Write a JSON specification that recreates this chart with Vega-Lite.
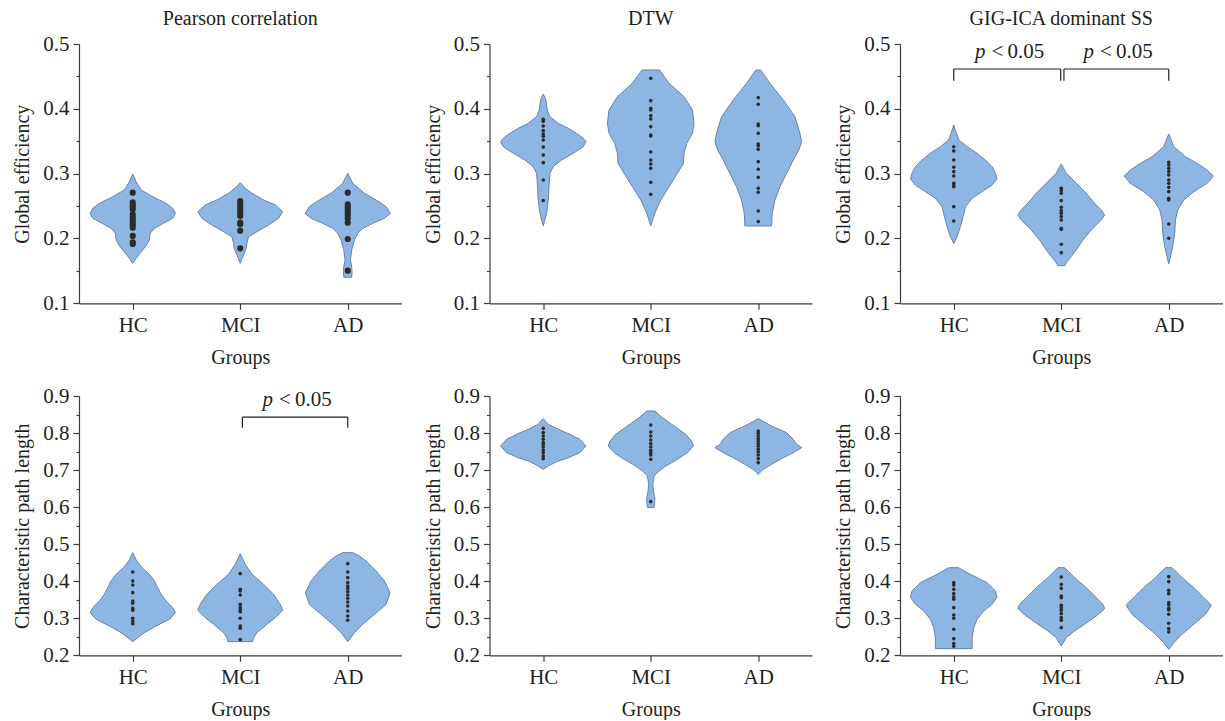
{
"$schema": "https://vega.github.io/schema/vega-lite/v6.json",
"background": "white",
"padding": {"left": 12, "top": 9, "right": 0, "bottom": 0},
"config": {
  "view": {"stroke": null},
  "font": "Liberation Serif",
  "axis": {"labelFont": "Liberation Serif", "titleFont": "Liberation Serif", "labelFontSize": 21, "titleFontSize": 20, "titleFontWeight": "normal", "labelColor": "#231f20", "titleColor": "#231f20", "domainColor": "#3c3c3c", "tickColor": "#3c3c3c", "domainWidth": 1.2, "tickWidth": 1.2, "grid": false, "labelOverlap": false, "labelFlush": false, "labelBound": false, "tickCount": 40},
  "title": {"font": "Liberation Serif", "fontSize": 20, "fontWeight": "normal", "color": "#231f20", "anchor": "middle", "baseline": "alphabetic", "offset": 4}
},
"datasets": {
"violins": [
{"p":"A","g":"HC","v":0.2995,"lo":1,"hi":1},{"p":"A","g":"HC","v":0.2877,"lo":0.969,"hi":1.031},{"p":"A","g":"HC","v":0.2748,"lo":0.922,"hi":1.078},{"p":"A","g":"HC","v":0.2645,"lo":0.814,"hi":1.186},{"p":"A","g":"HC","v":0.2542,"lo":0.69,"hi":1.31},{"p":"A","g":"HC","v":0.2465,"lo":0.628,"hi":1.372},{"p":"A","g":"HC","v":0.2388,"lo":0.603,"hi":1.397},{"p":"A","g":"HC","v":0.2311,"lo":0.628,"hi":1.372},{"p":"A","g":"HC","v":0.2234,"lo":0.715,"hi":1.285},{"p":"A","g":"HC","v":0.2157,"lo":0.798,"hi":1.202},{"p":"A","g":"HC","v":0.208,"lo":0.839,"hi":1.161},{"p":"A","g":"HC","v":0.1977,"lo":0.845,"hi":1.155},{"p":"A","g":"HC","v":0.1874,"lo":0.882,"hi":1.118},{"p":"A","g":"HC","v":0.1771,"lo":0.932,"hi":1.068},{"p":"A","g":"HC","v":0.1694,"lo":0.969,"hi":1.031},{"p":"A","g":"HC","v":0.1617,"lo":1,"hi":1},
{"p":"A","g":"MCI","v":0.2861,"lo":2,"hi":2},{"p":"A","g":"MCI","v":0.2774,"lo":1.953,"hi":2.047},{"p":"A","g":"MCI","v":0.2697,"lo":1.891,"hi":2.109},{"p":"A","g":"MCI","v":0.2594,"lo":1.783,"hi":2.217},{"p":"A","g":"MCI","v":0.2517,"lo":1.674,"hi":2.326},{"p":"A","g":"MCI","v":0.2414,"lo":1.606,"hi":2.394},{"p":"A","g":"MCI","v":0.2311,"lo":1.643,"hi":2.357},{"p":"A","g":"MCI","v":0.2208,"lo":1.736,"hi":2.264},{"p":"A","g":"MCI","v":0.2105,"lo":1.845,"hi":2.155},{"p":"A","g":"MCI","v":0.2028,"lo":1.922,"hi":2.078},{"p":"A","g":"MCI","v":0.1925,"lo":1.938,"hi":2.062},{"p":"A","g":"MCI","v":0.1848,"lo":1.944,"hi":2.056},{"p":"A","g":"MCI","v":0.1746,"lo":1.969,"hi":2.031},{"p":"A","g":"MCI","v":0.1617,"lo":2,"hi":2},
{"p":"A","g":"AD","v":0.3005,"lo":3,"hi":3},{"p":"A","g":"AD","v":0.2851,"lo":2.953,"hi":3.047},{"p":"A","g":"AD","v":0.2697,"lo":2.845,"hi":3.155},{"p":"A","g":"AD","v":0.2594,"lo":2.736,"hi":3.264},{"p":"A","g":"AD","v":0.2491,"lo":2.643,"hi":3.357},{"p":"A","g":"AD","v":0.2388,"lo":2.603,"hi":3.397},{"p":"A","g":"AD","v":0.2311,"lo":2.659,"hi":3.341},{"p":"A","g":"AD","v":0.2234,"lo":2.767,"hi":3.233},{"p":"A","g":"AD","v":0.2157,"lo":2.86,"hi":3.14},{"p":"A","g":"AD","v":0.208,"lo":2.907,"hi":3.093},{"p":"A","g":"AD","v":0.1977,"lo":2.938,"hi":3.062},{"p":"A","g":"AD","v":0.1823,"lo":2.963,"hi":3.037},{"p":"A","g":"AD","v":0.1668,"lo":2.975,"hi":3.025},{"p":"A","g":"AD","v":0.1566,"lo":2.963,"hi":3.037},{"p":"A","g":"AD","v":0.1488,"lo":2.96,"hi":3.04},{"p":"A","g":"AD","v":0.1401,"lo":2.963,"hi":3.037},
{"p":"B","g":"HC","v":0.4229,"lo":1,"hi":1},{"p":"B","g":"HC","v":0.4136,"lo":0.975,"hi":1.025},{"p":"B","g":"HC","v":0.3982,"lo":0.963,"hi":1.037},{"p":"B","g":"HC","v":0.3879,"lo":0.938,"hi":1.062},{"p":"B","g":"HC","v":0.3776,"lo":0.86,"hi":1.14},{"p":"B","g":"HC","v":0.3699,"lo":0.767,"hi":1.233},{"p":"B","g":"HC","v":0.3622,"lo":0.69,"hi":1.31},{"p":"B","g":"HC","v":0.3545,"lo":0.628,"hi":1.372},{"p":"B","g":"HC","v":0.3494,"lo":0.603,"hi":1.397},{"p":"B","g":"HC","v":0.3416,"lo":0.628,"hi":1.372},{"p":"B","g":"HC","v":0.3314,"lo":0.721,"hi":1.279},{"p":"B","g":"HC","v":0.3211,"lo":0.829,"hi":1.171},{"p":"B","g":"HC","v":0.3108,"lo":0.907,"hi":1.093},{"p":"B","g":"HC","v":0.3005,"lo":0.938,"hi":1.062},{"p":"B","g":"HC","v":0.2799,"lo":0.947,"hi":1.053},{"p":"B","g":"HC","v":0.2594,"lo":0.953,"hi":1.047},{"p":"B","g":"HC","v":0.2388,"lo":0.969,"hi":1.031},{"p":"B","g":"HC","v":0.2193,"lo":1,"hi":1},
{"p":"B","g":"MCI","v":0.4599,"lo":1.919,"hi":2.081},{"p":"B","g":"MCI","v":0.4393,"lo":1.829,"hi":2.171},{"p":"B","g":"MCI","v":0.4188,"lo":1.69,"hi":2.31},{"p":"B","g":"MCI","v":0.3982,"lo":1.612,"hi":2.388},{"p":"B","g":"MCI","v":0.3776,"lo":1.597,"hi":2.403},{"p":"B","g":"MCI","v":0.3622,"lo":1.612,"hi":2.388},{"p":"B","g":"MCI","v":0.3468,"lo":1.665,"hi":2.335},{"p":"B","g":"MCI","v":0.3314,"lo":1.69,"hi":2.31},{"p":"B","g":"MCI","v":0.3159,"lo":1.696,"hi":2.304},{"p":"B","g":"MCI","v":0.3005,"lo":1.752,"hi":2.248},{"p":"B","g":"MCI","v":0.2799,"lo":1.829,"hi":2.171},{"p":"B","g":"MCI","v":0.2594,"lo":1.907,"hi":2.093},{"p":"B","g":"MCI","v":0.2388,"lo":1.963,"hi":2.037},{"p":"B","g":"MCI","v":0.2193,"lo":2,"hi":2},
{"p":"B","g":"AD","v":0.4599,"lo":2.978,"hi":3.022},{"p":"B","g":"AD","v":0.4393,"lo":2.891,"hi":3.109},{"p":"B","g":"AD","v":0.4136,"lo":2.767,"hi":3.233},{"p":"B","g":"AD","v":0.3879,"lo":2.659,"hi":3.341},{"p":"B","g":"AD","v":0.3622,"lo":2.612,"hi":3.388},{"p":"B","g":"AD","v":0.3494,"lo":2.597,"hi":3.403},{"p":"B","g":"AD","v":0.3365,"lo":2.622,"hi":3.378},{"p":"B","g":"AD","v":0.3211,"lo":2.674,"hi":3.326},{"p":"B","g":"AD","v":0.3005,"lo":2.736,"hi":3.264},{"p":"B","g":"AD","v":0.2799,"lo":2.798,"hi":3.202},{"p":"B","g":"AD","v":0.2594,"lo":2.845,"hi":3.155},{"p":"B","g":"AD","v":0.2388,"lo":2.87,"hi":3.13},{"p":"B","g":"AD","v":0.2193,"lo":2.876,"hi":3.124},
{"p":"C","g":"HC","v":0.3751,"lo":1,"hi":1},{"p":"C","g":"HC","v":0.3622,"lo":0.975,"hi":1.025},{"p":"C","g":"HC","v":0.3519,"lo":0.953,"hi":1.047},{"p":"C","g":"HC","v":0.3416,"lo":0.876,"hi":1.124},{"p":"C","g":"HC","v":0.3314,"lo":0.783,"hi":1.217},{"p":"C","g":"HC","v":0.3211,"lo":0.705,"hi":1.295},{"p":"C","g":"HC","v":0.3108,"lo":0.643,"hi":1.357},{"p":"C","g":"HC","v":0.3005,"lo":0.612,"hi":1.388},{"p":"C","g":"HC","v":0.2918,"lo":0.597,"hi":1.403},{"p":"C","g":"HC","v":0.2825,"lo":0.643,"hi":1.357},{"p":"C","g":"HC","v":0.2722,"lo":0.736,"hi":1.264},{"p":"C","g":"HC","v":0.262,"lo":0.829,"hi":1.171},{"p":"C","g":"HC","v":0.2491,"lo":0.891,"hi":1.109},{"p":"C","g":"HC","v":0.2337,"lo":0.913,"hi":1.087},{"p":"C","g":"HC","v":0.2183,"lo":0.938,"hi":1.062},{"p":"C","g":"HC","v":0.2028,"lo":0.969,"hi":1.031},{"p":"C","g":"HC","v":0.1925,"lo":1,"hi":1},
{"p":"C","g":"MCI","v":0.3149,"lo":2,"hi":2},{"p":"C","g":"MCI","v":0.3005,"lo":1.953,"hi":2.047},{"p":"C","g":"MCI","v":0.2851,"lo":1.86,"hi":2.14},{"p":"C","g":"MCI","v":0.2697,"lo":1.767,"hi":2.233},{"p":"C","g":"MCI","v":0.2542,"lo":1.69,"hi":2.31},{"p":"C","g":"MCI","v":0.244,"lo":1.628,"hi":2.372},{"p":"C","g":"MCI","v":0.2362,"lo":1.597,"hi":2.403},{"p":"C","g":"MCI","v":0.2285,"lo":1.628,"hi":2.372},{"p":"C","g":"MCI","v":0.2131,"lo":1.721,"hi":2.279},{"p":"C","g":"MCI","v":0.1977,"lo":1.798,"hi":2.202},{"p":"C","g":"MCI","v":0.1823,"lo":1.86,"hi":2.14},{"p":"C","g":"MCI","v":0.1694,"lo":1.922,"hi":2.078},{"p":"C","g":"MCI","v":0.1643,"lo":1.944,"hi":2.056},{"p":"C","g":"MCI","v":0.1581,"lo":1.969,"hi":2.031},
{"p":"C","g":"AD","v":0.3612,"lo":3,"hi":3},{"p":"C","g":"AD","v":0.3416,"lo":2.953,"hi":3.047},{"p":"C","g":"AD","v":0.3262,"lo":2.845,"hi":3.155},{"p":"C","g":"AD","v":0.3159,"lo":2.736,"hi":3.264},{"p":"C","g":"AD","v":0.3057,"lo":2.643,"hi":3.357},{"p":"C","g":"AD","v":0.2964,"lo":2.585,"hi":3.415},{"p":"C","g":"AD","v":0.2851,"lo":2.643,"hi":3.357},{"p":"C","g":"AD","v":0.2722,"lo":2.767,"hi":3.233},{"p":"C","g":"AD","v":0.2594,"lo":2.86,"hi":3.14},{"p":"C","g":"AD","v":0.244,"lo":2.916,"hi":3.084},{"p":"C","g":"AD","v":0.2285,"lo":2.938,"hi":3.062},{"p":"C","g":"AD","v":0.208,"lo":2.944,"hi":3.056},{"p":"C","g":"AD","v":0.1874,"lo":2.963,"hi":3.037},{"p":"C","g":"AD","v":0.1607,"lo":3,"hi":3},
{"p":"D","g":"HC","v":0.4771,"lo":1,"hi":1},{"p":"D","g":"HC","v":0.4546,"lo":0.963,"hi":1.037},{"p":"D","g":"HC","v":0.4366,"lo":0.913,"hi":1.087},{"p":"D","g":"HC","v":0.4186,"lo":0.845,"hi":1.155},{"p":"D","g":"HC","v":0.4006,"lo":0.798,"hi":1.202},{"p":"D","g":"HC","v":0.3826,"lo":0.767,"hi":1.233},{"p":"D","g":"HC","v":0.3646,"lo":0.736,"hi":1.264},{"p":"D","g":"HC","v":0.3466,"lo":0.69,"hi":1.31},{"p":"D","g":"HC","v":0.3287,"lo":0.628,"hi":1.372},{"p":"D","g":"HC","v":0.3152,"lo":0.603,"hi":1.397},{"p":"D","g":"HC","v":0.2972,"lo":0.659,"hi":1.341},{"p":"D","g":"HC","v":0.2792,"lo":0.783,"hi":1.217},{"p":"D","g":"HC","v":0.2612,"lo":0.891,"hi":1.109},{"p":"D","g":"HC","v":0.2477,"lo":0.953,"hi":1.047},{"p":"D","g":"HC","v":0.2369,"lo":1,"hi":1},
{"p":"D","g":"MCI","v":0.4744,"lo":2,"hi":2},{"p":"D","g":"MCI","v":0.4456,"lo":1.953,"hi":2.047},{"p":"D","g":"MCI","v":0.4186,"lo":1.891,"hi":2.109},{"p":"D","g":"MCI","v":0.3916,"lo":1.783,"hi":2.217},{"p":"D","g":"MCI","v":0.3646,"lo":1.69,"hi":2.31},{"p":"D","g":"MCI","v":0.3376,"lo":1.628,"hi":2.372},{"p":"D","g":"MCI","v":0.3214,"lo":1.606,"hi":2.394},{"p":"D","g":"MCI","v":0.3016,"lo":1.674,"hi":2.326},{"p":"D","g":"MCI","v":0.2837,"lo":1.752,"hi":2.248},{"p":"D","g":"MCI","v":0.2612,"lo":1.845,"hi":2.155},{"p":"D","g":"MCI","v":0.2477,"lo":1.876,"hi":2.124},{"p":"D","g":"MCI","v":0.2369,"lo":1.885,"hi":2.115},
{"p":"D","g":"AD","v":0.4771,"lo":2.953,"hi":3.047},{"p":"D","g":"AD","v":0.4681,"lo":2.891,"hi":3.109},{"p":"D","g":"AD","v":0.4546,"lo":2.829,"hi":3.171},{"p":"D","g":"AD","v":0.4276,"lo":2.736,"hi":3.264},{"p":"D","g":"AD","v":0.4006,"lo":2.659,"hi":3.341},{"p":"D","g":"AD","v":0.3691,"lo":2.606,"hi":3.394},{"p":"D","g":"AD","v":0.3376,"lo":2.643,"hi":3.357},{"p":"D","g":"AD","v":0.3106,"lo":2.752,"hi":3.248},{"p":"D","g":"AD","v":0.2837,"lo":2.86,"hi":3.14},{"p":"D","g":"AD","v":0.2612,"lo":2.938,"hi":3.062},{"p":"D","g":"AD","v":0.2369,"lo":3,"hi":3},
{"p":"E","g":"HC","v":0.8388,"lo":1,"hi":1},{"p":"E","g":"HC","v":0.8235,"lo":0.953,"hi":1.047},{"p":"E","g":"HC","v":0.81,"lo":0.86,"hi":1.14},{"p":"E","g":"HC","v":0.7965,"lo":0.752,"hi":1.248},{"p":"E","g":"HC","v":0.783,"lo":0.659,"hi":1.341},{"p":"E","g":"HC","v":0.765,"lo":0.603,"hi":1.397},{"p":"E","g":"HC","v":0.747,"lo":0.659,"hi":1.341},{"p":"E","g":"HC","v":0.7335,"lo":0.767,"hi":1.233},{"p":"E","g":"HC","v":0.7227,"lo":0.876,"hi":1.124},{"p":"E","g":"HC","v":0.711,"lo":0.953,"hi":1.047},{"p":"E","g":"HC","v":0.702,"lo":1,"hi":1},
{"p":"E","g":"MCI","v":0.8595,"lo":1.963,"hi":2.037},{"p":"E","g":"MCI","v":0.8415,"lo":1.891,"hi":2.109},{"p":"E","g":"MCI","v":0.819,"lo":1.783,"hi":2.217},{"p":"E","g":"MCI","v":0.7965,"lo":1.674,"hi":2.326},{"p":"E","g":"MCI","v":0.7785,"lo":1.622,"hi":2.378},{"p":"E","g":"MCI","v":0.765,"lo":1.603,"hi":2.397},{"p":"E","g":"MCI","v":0.747,"lo":1.659,"hi":2.341},{"p":"E","g":"MCI","v":0.729,"lo":1.752,"hi":2.248},{"p":"E","g":"MCI","v":0.711,"lo":1.86,"hi":2.14},{"p":"E","g":"MCI","v":0.6976,"lo":1.922,"hi":2.078},{"p":"E","g":"MCI","v":0.6841,"lo":1.969,"hi":2.031},{"p":"E","g":"MCI","v":0.6616,"lo":1.981,"hi":2.019},{"p":"E","g":"MCI","v":0.6436,"lo":1.975,"hi":2.025},{"p":"E","g":"MCI","v":0.6256,"lo":1.963,"hi":2.037},{"p":"E","g":"MCI","v":0.6121,"lo":1.963,"hi":2.037},{"p":"E","g":"MCI","v":0.5986,"lo":1.972,"hi":2.028},
{"p":"E","g":"AD","v":0.8388,"lo":3,"hi":3},{"p":"E","g":"AD","v":0.819,"lo":2.876,"hi":3.124},{"p":"E","g":"AD","v":0.801,"lo":2.736,"hi":3.264},{"p":"E","g":"AD","v":0.783,"lo":2.674,"hi":3.326},{"p":"E","g":"AD","v":0.7695,"lo":2.643,"hi":3.357},{"p":"E","g":"AD","v":0.7605,"lo":2.597,"hi":3.403},{"p":"E","g":"AD","v":0.747,"lo":2.674,"hi":3.326},{"p":"E","g":"AD","v":0.7335,"lo":2.767,"hi":3.233},{"p":"E","g":"AD","v":0.7155,"lo":2.876,"hi":3.124},{"p":"E","g":"AD","v":0.702,"lo":2.953,"hi":3.047},{"p":"E","g":"AD","v":0.6886,"lo":3,"hi":3},
{"p":"F","g":"HC","v":0.4366,"lo":0.957,"hi":1.043},{"p":"F","g":"HC","v":0.4186,"lo":0.845,"hi":1.155},{"p":"F","g":"HC","v":0.3961,"lo":0.69,"hi":1.31},{"p":"F","g":"HC","v":0.3736,"lo":0.612,"hi":1.388},{"p":"F","g":"HC","v":0.3574,"lo":0.597,"hi":1.403},{"p":"F","g":"HC","v":0.3376,"lo":0.643,"hi":1.357},{"p":"F","g":"HC","v":0.3196,"lo":0.721,"hi":1.279},{"p":"F","g":"HC","v":0.2972,"lo":0.783,"hi":1.217},{"p":"F","g":"HC","v":0.2747,"lo":0.814,"hi":1.186},{"p":"F","g":"HC","v":0.2477,"lo":0.829,"hi":1.171},{"p":"F","g":"HC","v":0.218,"lo":0.829,"hi":1.171},
{"p":"F","g":"MCI","v":0.4366,"lo":1.969,"hi":2.031},{"p":"F","g":"MCI","v":0.4096,"lo":1.876,"hi":2.124},{"p":"F","g":"MCI","v":0.3826,"lo":1.767,"hi":2.233},{"p":"F","g":"MCI","v":0.3556,"lo":1.674,"hi":2.326},{"p":"F","g":"MCI","v":0.3376,"lo":1.612,"hi":2.388},{"p":"F","g":"MCI","v":0.3259,"lo":1.597,"hi":2.403},{"p":"F","g":"MCI","v":0.3061,"lo":1.674,"hi":2.326},{"p":"F","g":"MCI","v":0.2837,"lo":1.783,"hi":2.217},{"p":"F","g":"MCI","v":0.2657,"lo":1.876,"hi":2.124},{"p":"F","g":"MCI","v":0.2477,"lo":1.953,"hi":2.047},{"p":"F","g":"MCI","v":0.2252,"lo":2,"hi":2},
{"p":"F","g":"AD","v":0.4366,"lo":2.969,"hi":3.031},{"p":"F","g":"AD","v":0.4096,"lo":2.876,"hi":3.124},{"p":"F","g":"AD","v":0.3826,"lo":2.767,"hi":3.233},{"p":"F","g":"AD","v":0.3556,"lo":2.674,"hi":3.326},{"p":"F","g":"AD","v":0.3349,"lo":2.603,"hi":3.397},{"p":"F","g":"AD","v":0.3106,"lo":2.659,"hi":3.341},{"p":"F","g":"AD","v":0.2837,"lo":2.767,"hi":3.233},{"p":"F","g":"AD","v":0.2567,"lo":2.876,"hi":3.124},{"p":"F","g":"AD","v":0.2342,"lo":2.953,"hi":3.047},{"p":"F","g":"AD","v":0.2162,"lo":3,"hi":3}
],
"dots": [
{"p":"A","gx":1,"v":0.2707},{"p":"A","gx":1,"v":0.2558},{"p":"A","gx":1,"v":0.2517},{"p":"A","gx":1,"v":0.2491},{"p":"A","gx":1,"v":0.245},{"p":"A","gx":1,"v":0.2373},{"p":"A","gx":1,"v":0.2326},{"p":"A","gx":1,"v":0.2285},{"p":"A","gx":1,"v":0.2244},{"p":"A","gx":1,"v":0.2208},{"p":"A","gx":1,"v":0.2167},{"p":"A","gx":1,"v":0.2039},{"p":"A","gx":1,"v":0.1941},{"p":"A","gx":1,"v":0.1915},
{"p":"A","gx":2,"v":0.2578},{"p":"A","gx":2,"v":0.2542},{"p":"A","gx":2,"v":0.2501},{"p":"A","gx":2,"v":0.2465},{"p":"A","gx":2,"v":0.2429},{"p":"A","gx":2,"v":0.2388},{"p":"A","gx":2,"v":0.2347},{"p":"A","gx":2,"v":0.2244},{"p":"A","gx":2,"v":0.2219},{"p":"A","gx":2,"v":0.2121},{"p":"A","gx":2,"v":0.1848},
{"p":"A","gx":3,"v":0.2707},{"p":"A","gx":3,"v":0.2527},{"p":"A","gx":3,"v":0.2491},{"p":"A","gx":3,"v":0.245},{"p":"A","gx":3,"v":0.2404},{"p":"A","gx":3,"v":0.2362},{"p":"A","gx":3,"v":0.2311},{"p":"A","gx":3,"v":0.2244},{"p":"A","gx":3,"v":0.1992},{"p":"A","gx":3,"v":0.1504},
{"p":"B","gx":1,"v":0.3838},{"p":"B","gx":1,"v":0.3807},{"p":"B","gx":1,"v":0.3735},{"p":"B","gx":1,"v":0.3663},{"p":"B","gx":1,"v":0.3612},{"p":"B","gx":1,"v":0.3576},{"p":"B","gx":1,"v":0.3519},{"p":"B","gx":1,"v":0.3411},{"p":"B","gx":1,"v":0.3288},{"p":"B","gx":1,"v":0.317},{"p":"B","gx":1,"v":0.2902},{"p":"B","gx":1,"v":0.2584},
{"p":"B","gx":2,"v":0.447},{"p":"B","gx":2,"v":0.4126},{"p":"B","gx":2,"v":0.4008},{"p":"B","gx":2,"v":0.3982},{"p":"B","gx":2,"v":0.3895},{"p":"B","gx":2,"v":0.3843},{"p":"B","gx":2,"v":0.3725},{"p":"B","gx":2,"v":0.3596},{"p":"B","gx":2,"v":0.3581},{"p":"B","gx":2,"v":0.3334},{"p":"B","gx":2,"v":0.3211},{"p":"B","gx":2,"v":0.3149},{"p":"B","gx":2,"v":0.3082},{"p":"B","gx":2,"v":0.2866},{"p":"B","gx":2,"v":0.2681},
{"p":"B","gx":3,"v":0.4172},{"p":"B","gx":3,"v":0.4069},{"p":"B","gx":3,"v":0.3766},{"p":"B","gx":3,"v":0.374},{"p":"B","gx":3,"v":0.3622},{"p":"B","gx":3,"v":0.3458},{"p":"B","gx":3,"v":0.3432},{"p":"B","gx":3,"v":0.3375},{"p":"B","gx":3,"v":0.3185},{"p":"B","gx":3,"v":0.3067},{"p":"B","gx":3,"v":0.2943},{"p":"B","gx":3,"v":0.2774},{"p":"B","gx":3,"v":0.2712},{"p":"B","gx":3,"v":0.2424},{"p":"B","gx":3,"v":0.226},
{"p":"C","gx":1,"v":0.3416},{"p":"C","gx":1,"v":0.335},{"p":"C","gx":1,"v":0.3211},{"p":"C","gx":1,"v":0.3098},{"p":"C","gx":1,"v":0.3031},{"p":"C","gx":1,"v":0.2964},{"p":"C","gx":1,"v":0.2851},{"p":"C","gx":1,"v":0.2825},{"p":"C","gx":1,"v":0.2799},{"p":"C","gx":1,"v":0.2491},{"p":"C","gx":1,"v":0.227},
{"p":"C","gx":2,"v":0.2774},{"p":"C","gx":2,"v":0.2738},{"p":"C","gx":2,"v":0.2697},{"p":"C","gx":2,"v":0.2584},{"p":"C","gx":2,"v":0.2481},{"p":"C","gx":2,"v":0.2429},{"p":"C","gx":2,"v":0.2388},{"p":"C","gx":2,"v":0.2337},{"p":"C","gx":2,"v":0.2285},{"p":"C","gx":2,"v":0.2157},{"p":"C","gx":2,"v":0.2141},{"p":"C","gx":2,"v":0.191},{"p":"C","gx":2,"v":0.1781},
{"p":"C","gx":3,"v":0.3175},{"p":"C","gx":3,"v":0.3134},{"p":"C","gx":3,"v":0.3082},{"p":"C","gx":3,"v":0.3031},{"p":"C","gx":3,"v":0.298},{"p":"C","gx":3,"v":0.2902},{"p":"C","gx":3,"v":0.2851},{"p":"C","gx":3,"v":0.2789},{"p":"C","gx":3,"v":0.2722},{"p":"C","gx":3,"v":0.2619},{"p":"C","gx":3,"v":0.2594},{"p":"C","gx":3,"v":0.2224},{"p":"C","gx":3,"v":0.2003},
{"p":"D","gx":1,"v":0.4249},{"p":"D","gx":1,"v":0.4006},{"p":"D","gx":1,"v":0.3898},{"p":"D","gx":1,"v":0.3691},{"p":"D","gx":1,"v":0.3467},{"p":"D","gx":1,"v":0.3404},{"p":"D","gx":1,"v":0.3269},{"p":"D","gx":1,"v":0.3215},{"p":"D","gx":1,"v":0.2999},{"p":"D","gx":1,"v":0.2927},{"p":"D","gx":1,"v":0.2855},
{"p":"D","gx":2,"v":0.4204},{"p":"D","gx":2,"v":0.3781},{"p":"D","gx":2,"v":0.3736},{"p":"D","gx":2,"v":0.3628},{"p":"D","gx":2,"v":0.3377},{"p":"D","gx":2,"v":0.3305},{"p":"D","gx":2,"v":0.3242},{"p":"D","gx":2,"v":0.3179},{"p":"D","gx":2,"v":0.2999},{"p":"D","gx":2,"v":0.2792},{"p":"D","gx":2,"v":0.2729},{"p":"D","gx":2,"v":0.2423},
{"p":"D","gx":3,"v":0.4474},{"p":"D","gx":3,"v":0.4249},{"p":"D","gx":3,"v":0.4096},{"p":"D","gx":3,"v":0.3961},{"p":"D","gx":3,"v":0.3871},{"p":"D","gx":3,"v":0.3808},{"p":"D","gx":3,"v":0.3718},{"p":"D","gx":3,"v":0.3628},{"p":"D","gx":3,"v":0.3539},{"p":"D","gx":3,"v":0.344},{"p":"D","gx":3,"v":0.3332},{"p":"D","gx":3,"v":0.3197},{"p":"D","gx":3,"v":0.3062},{"p":"D","gx":3,"v":0.2945},
{"p":"E","gx":1,"v":0.8127},{"p":"E","gx":1,"v":0.801},{"p":"E","gx":1,"v":0.792},{"p":"E","gx":1,"v":0.783},{"p":"E","gx":1,"v":0.774},{"p":"E","gx":1,"v":0.7695},{"p":"E","gx":1,"v":0.7623},{"p":"E","gx":1,"v":0.7542},{"p":"E","gx":1,"v":0.747},{"p":"E","gx":1,"v":0.738},{"p":"E","gx":1,"v":0.7308},
{"p":"E","gx":2,"v":0.8217},{"p":"E","gx":2,"v":0.8028},{"p":"E","gx":2,"v":0.792},{"p":"E","gx":2,"v":0.7812},{"p":"E","gx":2,"v":0.7713},{"p":"E","gx":2,"v":0.7623},{"p":"E","gx":2,"v":0.7533},{"p":"E","gx":2,"v":0.747},{"p":"E","gx":2,"v":0.7407},{"p":"E","gx":2,"v":0.729},{"p":"E","gx":2,"v":0.6148},
{"p":"E","gx":3,"v":0.8055},{"p":"E","gx":3,"v":0.7992},{"p":"E","gx":3,"v":0.792},{"p":"E","gx":3,"v":0.7848},{"p":"E","gx":3,"v":0.7785},{"p":"E","gx":3,"v":0.7713},{"p":"E","gx":3,"v":0.7641},{"p":"E","gx":3,"v":0.756},{"p":"E","gx":3,"v":0.7488},{"p":"E","gx":3,"v":0.7407},{"p":"E","gx":3,"v":0.7308},{"p":"E","gx":3,"v":0.72},
{"p":"F","gx":1,"v":0.3961},{"p":"F","gx":1,"v":0.3898},{"p":"F","gx":1,"v":0.3781},{"p":"F","gx":1,"v":0.3664},{"p":"F","gx":1,"v":0.3574},{"p":"F","gx":1,"v":0.3512},{"p":"F","gx":1,"v":0.3287},{"p":"F","gx":1,"v":0.3089},{"p":"F","gx":1,"v":0.2999},{"p":"F","gx":1,"v":0.2702},{"p":"F","gx":1,"v":0.245},{"p":"F","gx":1,"v":0.2315},{"p":"F","gx":1,"v":0.2243},
{"p":"F","gx":2,"v":0.4114},{"p":"F","gx":2,"v":0.3916},{"p":"F","gx":2,"v":0.3808},{"p":"F","gx":2,"v":0.3601},{"p":"F","gx":2,"v":0.3556},{"p":"F","gx":2,"v":0.335},{"p":"F","gx":2,"v":0.3287},{"p":"F","gx":2,"v":0.3215},{"p":"F","gx":2,"v":0.3125},{"p":"F","gx":2,"v":0.3017},{"p":"F","gx":2,"v":0.2945},{"p":"F","gx":2,"v":0.2747},
{"p":"F","gx":3,"v":0.4123},{"p":"F","gx":3,"v":0.3988},{"p":"F","gx":3,"v":0.3754},{"p":"F","gx":3,"v":0.3664},{"p":"F","gx":3,"v":0.3422},{"p":"F","gx":3,"v":0.3359},{"p":"F","gx":3,"v":0.3269},{"p":"F","gx":3,"v":0.3224},{"p":"F","gx":3,"v":0.3107},{"p":"F","gx":3,"v":0.2864},{"p":"F","gx":3,"v":0.272},{"p":"F","gx":3,"v":0.263}
],
"brackets": [
{"p":"C","x":1,"x2":1.995,"y":0.4614,"y2":0.4614},{"p":"C","x":1,"x2":1,"y":0.4434,"y2":0.4614},{"p":"C","x":1.995,"x2":1.995,"y":0.4434,"y2":0.4614},
{"p":"C","x":2.025,"x2":3,"y":0.4614,"y2":0.4614},{"p":"C","x":2.025,"x2":2.025,"y":0.4434,"y2":0.4614},{"p":"C","x":3,"x2":3,"y":0.4434,"y2":0.4614},
{"p":"D","x":2.02,"x2":3,"y":0.843,"y2":0.843},{"p":"D","x":2.02,"x2":2.02,"y":0.8145,"y2":0.843},{"p":"D","x":3,"x2":3,"y":0.8145,"y2":0.843}
],
"ptext": [
{"p":"C","x":1.5,"y":0.478,"t1":"p","t2":"<\u20090.05"},
{"p":"C","x":2.51,"y":0.478,"t1":"p","t2":"<\u20090.05"},
{"p":"D","x":2.51,"y":0.873,"t1":"p","t2":"<\u20090.05"}
]
},
"columns": 3,
"bounds": "flush",
"spacing": {"row": 92, "column": 87.5},
"concat": [
{
 "width": 322.5, "height": 259.3,
 "title": {"text": "Pearson correlation"},
 "layer": [
  {"data": {"name": "violins"}, "transform": [{"filter": "datum.p == 'A'"}],
   "mark": {"type": "area", "orient": "horizontal", "fill": "#8eb6e2", "fillOpacity": 1, "stroke": "#6a82a6", "strokeWidth": 1},
   "encoding": {
    "y": {"field": "v", "type": "quantitative", "scale": {"domain": [0.1, 0.5], "nice": false, "zero": false},
      "axis": {"title": "Global efficiency", "labelOverlap": false, "tickCount": 40, "values": [0.1,0.15,0.2,0.25,0.3,0.35,0.4,0.45,0.5], "labelExpr": "abs(datum.value*10 - round(datum.value*10)) < 0.001 ? format(datum.value, '.1f') : ''", "tickSize": {"condition": {"test": "abs(datum.value*10 - round(datum.value*10)) < 0.001", "value": 6}, "value": 3}, "labelPadding": 4, "titlePadding": 10}},
    "x": {"field": "lo", "type": "quantitative", "scale": {"domain": [0.5, 3.5], "nice": false, "zero": false},
      "axis": {"title": "Groups", "labelOverlap": false, "values": [1,2,3], "labelExpr": "datum.value == 1 ? 'HC' : datum.value == 2 ? 'MCI' : 'AD'", "tickSize": 6, "labelPadding": 5, "titlePadding": 12}},
    "x2": {"field": "hi"},
    "detail": {"field": "g"}
   }},
  {"data": {"name": "dots"}, "transform": [{"filter": "datum.p == 'A'"}],
   "mark": {"type": "circle", "color": "#2b2b2b", "size": 38, "opacity": 1},
   "encoding": {"x": {"field": "gx", "type": "quantitative"}, "y": {"field": "v", "type": "quantitative"}}}
 ]
},
{
 "width": 322.5, "height": 259.3,
 "title": {"text": "DTW"},
 "layer": [
  {"data": {"name": "violins"}, "transform": [{"filter": "datum.p == 'B'"}],
   "mark": {"type": "area", "orient": "horizontal", "fill": "#8eb6e2", "fillOpacity": 1, "stroke": "#6a82a6", "strokeWidth": 1},
   "encoding": {
    "y": {"field": "v", "type": "quantitative", "scale": {"domain": [0.1, 0.5], "nice": false, "zero": false},
      "axis": {"title": "Global efficiency", "labelOverlap": false, "tickCount": 40, "values": [0.1,0.15,0.2,0.25,0.3,0.35,0.4,0.45,0.5], "labelExpr": "abs(datum.value*10 - round(datum.value*10)) < 0.001 ? format(datum.value, '.1f') : ''", "tickSize": {"condition": {"test": "abs(datum.value*10 - round(datum.value*10)) < 0.001", "value": 6}, "value": 3}, "labelPadding": 4, "titlePadding": 10}},
    "x": {"field": "lo", "type": "quantitative", "scale": {"domain": [0.5, 3.5], "nice": false, "zero": false},
      "axis": {"title": "Groups", "labelOverlap": false, "values": [1,2,3], "labelExpr": "datum.value == 1 ? 'HC' : datum.value == 2 ? 'MCI' : 'AD'", "tickSize": 6, "labelPadding": 5, "titlePadding": 12}},
    "x2": {"field": "hi"},
    "detail": {"field": "g"}
   }},
  {"data": {"name": "dots"}, "transform": [{"filter": "datum.p == 'B'"}],
   "mark": {"type": "circle", "color": "#2b2b2b", "size": 13, "opacity": 1},
   "encoding": {"x": {"field": "gx", "type": "quantitative"}, "y": {"field": "v", "type": "quantitative"}}}
 ]
},
{
 "width": 322.5, "height": 259.3,
 "title": {"text": "GIG-ICA dominant SS"},
 "layer": [
  {"data": {"name": "violins"}, "transform": [{"filter": "datum.p == 'C'"}],
   "mark": {"type": "area", "orient": "horizontal", "fill": "#8eb6e2", "fillOpacity": 1, "stroke": "#6a82a6", "strokeWidth": 1},
   "encoding": {
    "y": {"field": "v", "type": "quantitative", "scale": {"domain": [0.1, 0.5], "nice": false, "zero": false},
      "axis": {"title": "Global efficiency", "labelOverlap": false, "tickCount": 40, "values": [0.1,0.15,0.2,0.25,0.3,0.35,0.4,0.45,0.5], "labelExpr": "abs(datum.value*10 - round(datum.value*10)) < 0.001 ? format(datum.value, '.1f') : ''", "tickSize": {"condition": {"test": "abs(datum.value*10 - round(datum.value*10)) < 0.001", "value": 6}, "value": 3}, "labelPadding": 4, "titlePadding": 10}},
    "x": {"field": "lo", "type": "quantitative", "scale": {"domain": [0.5, 3.5], "nice": false, "zero": false},
      "axis": {"title": "Groups", "labelOverlap": false, "values": [1,2,3], "labelExpr": "datum.value == 1 ? 'HC' : datum.value == 2 ? 'MCI' : 'AD'", "tickSize": 6, "labelPadding": 5, "titlePadding": 12}},
    "x2": {"field": "hi"},
    "detail": {"field": "g"}
   }},
  {"data": {"name": "dots"}, "transform": [{"filter": "datum.p == 'C'"}],
   "mark": {"type": "circle", "color": "#2b2b2b", "size": 13, "opacity": 1},
   "encoding": {"x": {"field": "gx", "type": "quantitative"}, "y": {"field": "v", "type": "quantitative"}}},
  {"data": {"name": "brackets"}, "transform": [{"filter": "datum.p == 'C'"}],
   "mark": {"type": "rule", "color": "#231f20", "strokeWidth": 1.2},
   "encoding": {"x": {"field": "x", "type": "quantitative"}, "x2": {"field": "x2"}, "y": {"field": "y", "type": "quantitative"}, "y2": {"field": "y2"}}},
  {"data": {"name": "ptext"}, "transform": [{"filter": "datum.p == 'C'"}],
   "mark": {"type": "text", "font": "Liberation Serif", "fontSize": 21, "fontStyle": "italic", "align": "right", "baseline": "alphabetic", "dx": -22, "color": "#231f20"},
   "encoding": {"x": {"field": "x", "type": "quantitative"}, "y": {"field": "y", "type": "quantitative"}, "text": {"field": "t1"}}},
  {"data": {"name": "ptext"}, "transform": [{"filter": "datum.p == 'C'"}],
   "mark": {"type": "text", "font": "Liberation Serif", "fontSize": 21, "align": "left", "baseline": "alphabetic", "dx": -16, "color": "#231f20"},
   "encoding": {"x": {"field": "x", "type": "quantitative"}, "y": {"field": "y", "type": "quantitative"}, "text": {"field": "t2"}}}
 ]
},
{
 "width": 322.5, "height": 259.3,
 "layer": [
  {"data": {"name": "violins"}, "transform": [{"filter": "datum.p == 'D'"}],
   "mark": {"type": "area", "orient": "horizontal", "fill": "#8eb6e2", "fillOpacity": 1, "stroke": "#6a82a6", "strokeWidth": 1},
   "encoding": {
    "y": {"field": "v", "type": "quantitative", "scale": {"domain": [0.2, 0.9], "nice": false, "zero": false},
      "axis": {"title": "Characteristic path length", "labelOverlap": false, "tickCount": 40, "values": [0.2,0.25,0.3,0.35,0.4,0.45,0.5,0.55,0.6,0.65,0.7,0.75,0.8,0.85,0.9], "labelExpr": "abs(datum.value*10 - round(datum.value*10)) < 0.001 ? format(datum.value, '.1f') : ''", "tickSize": {"condition": {"test": "abs(datum.value*10 - round(datum.value*10)) < 0.001", "value": 6}, "value": 3}, "labelPadding": 4, "titlePadding": 10}},
    "x": {"field": "lo", "type": "quantitative", "scale": {"domain": [0.5, 3.5], "nice": false, "zero": false},
      "axis": {"title": "Groups", "labelOverlap": false, "values": [1,2,3], "labelExpr": "datum.value == 1 ? 'HC' : datum.value == 2 ? 'MCI' : 'AD'", "tickSize": 6, "labelPadding": 5, "titlePadding": 12}},
    "x2": {"field": "hi"},
    "detail": {"field": "g"}
   }},
  {"data": {"name": "dots"}, "transform": [{"filter": "datum.p == 'D'"}],
   "mark": {"type": "circle", "color": "#2b2b2b", "size": 13, "opacity": 1},
   "encoding": {"x": {"field": "gx", "type": "quantitative"}, "y": {"field": "v", "type": "quantitative"}}},
  {"data": {"name": "brackets"}, "transform": [{"filter": "datum.p == 'D'"}],
   "mark": {"type": "rule", "color": "#231f20", "strokeWidth": 1.2},
   "encoding": {"x": {"field": "x", "type": "quantitative"}, "x2": {"field": "x2"}, "y": {"field": "y", "type": "quantitative"}, "y2": {"field": "y2"}}},
  {"data": {"name": "ptext"}, "transform": [{"filter": "datum.p == 'D'"}],
   "mark": {"type": "text", "font": "Liberation Serif", "fontSize": 21, "fontStyle": "italic", "align": "right", "baseline": "alphabetic", "dx": -22, "color": "#231f20"},
   "encoding": {"x": {"field": "x", "type": "quantitative"}, "y": {"field": "y", "type": "quantitative"}, "text": {"field": "t1"}}},
  {"data": {"name": "ptext"}, "transform": [{"filter": "datum.p == 'D'"}],
   "mark": {"type": "text", "font": "Liberation Serif", "fontSize": 21, "align": "left", "baseline": "alphabetic", "dx": -16, "color": "#231f20"},
   "encoding": {"x": {"field": "x", "type": "quantitative"}, "y": {"field": "y", "type": "quantitative"}, "text": {"field": "t2"}}}
 ]
},
{
 "width": 322.5, "height": 259.3,
 "layer": [
  {"data": {"name": "violins"}, "transform": [{"filter": "datum.p == 'E'"}],
   "mark": {"type": "area", "orient": "horizontal", "fill": "#8eb6e2", "fillOpacity": 1, "stroke": "#6a82a6", "strokeWidth": 1},
   "encoding": {
    "y": {"field": "v", "type": "quantitative", "scale": {"domain": [0.2, 0.9], "nice": false, "zero": false},
      "axis": {"title": "Characteristic path length", "labelOverlap": false, "tickCount": 40, "values": [0.2,0.25,0.3,0.35,0.4,0.45,0.5,0.55,0.6,0.65,0.7,0.75,0.8,0.85,0.9], "labelExpr": "abs(datum.value*10 - round(datum.value*10)) < 0.001 ? format(datum.value, '.1f') : ''", "tickSize": {"condition": {"test": "abs(datum.value*10 - round(datum.value*10)) < 0.001", "value": 6}, "value": 3}, "labelPadding": 4, "titlePadding": 10}},
    "x": {"field": "lo", "type": "quantitative", "scale": {"domain": [0.5, 3.5], "nice": false, "zero": false},
      "axis": {"title": "Groups", "labelOverlap": false, "values": [1,2,3], "labelExpr": "datum.value == 1 ? 'HC' : datum.value == 2 ? 'MCI' : 'AD'", "tickSize": 6, "labelPadding": 5, "titlePadding": 12}},
    "x2": {"field": "hi"},
    "detail": {"field": "g"}
   }},
  {"data": {"name": "dots"}, "transform": [{"filter": "datum.p == 'E'"}],
   "mark": {"type": "circle", "color": "#2b2b2b", "size": 13, "opacity": 1},
   "encoding": {"x": {"field": "gx", "type": "quantitative"}, "y": {"field": "v", "type": "quantitative"}}}
 ]
},
{
 "width": 322.5, "height": 259.3,
 "layer": [
  {"data": {"name": "violins"}, "transform": [{"filter": "datum.p == 'F'"}],
   "mark": {"type": "area", "orient": "horizontal", "fill": "#8eb6e2", "fillOpacity": 1, "stroke": "#6a82a6", "strokeWidth": 1},
   "encoding": {
    "y": {"field": "v", "type": "quantitative", "scale": {"domain": [0.2, 0.9], "nice": false, "zero": false},
      "axis": {"title": "Characteristic path length", "labelOverlap": false, "tickCount": 40, "values": [0.2,0.25,0.3,0.35,0.4,0.45,0.5,0.55,0.6,0.65,0.7,0.75,0.8,0.85,0.9], "labelExpr": "abs(datum.value*10 - round(datum.value*10)) < 0.001 ? format(datum.value, '.1f') : ''", "tickSize": {"condition": {"test": "abs(datum.value*10 - round(datum.value*10)) < 0.001", "value": 6}, "value": 3}, "labelPadding": 4, "titlePadding": 10}},
    "x": {"field": "lo", "type": "quantitative", "scale": {"domain": [0.5, 3.5], "nice": false, "zero": false},
      "axis": {"title": "Groups", "labelOverlap": false, "values": [1,2,3], "labelExpr": "datum.value == 1 ? 'HC' : datum.value == 2 ? 'MCI' : 'AD'", "tickSize": 6, "labelPadding": 5, "titlePadding": 12}},
    "x2": {"field": "hi"},
    "detail": {"field": "g"}
   }},
  {"data": {"name": "dots"}, "transform": [{"filter": "datum.p == 'F'"}],
   "mark": {"type": "circle", "color": "#2b2b2b", "size": 13, "opacity": 1},
   "encoding": {"x": {"field": "gx", "type": "quantitative"}, "y": {"field": "v", "type": "quantitative"}}}
 ]
}
]
}
